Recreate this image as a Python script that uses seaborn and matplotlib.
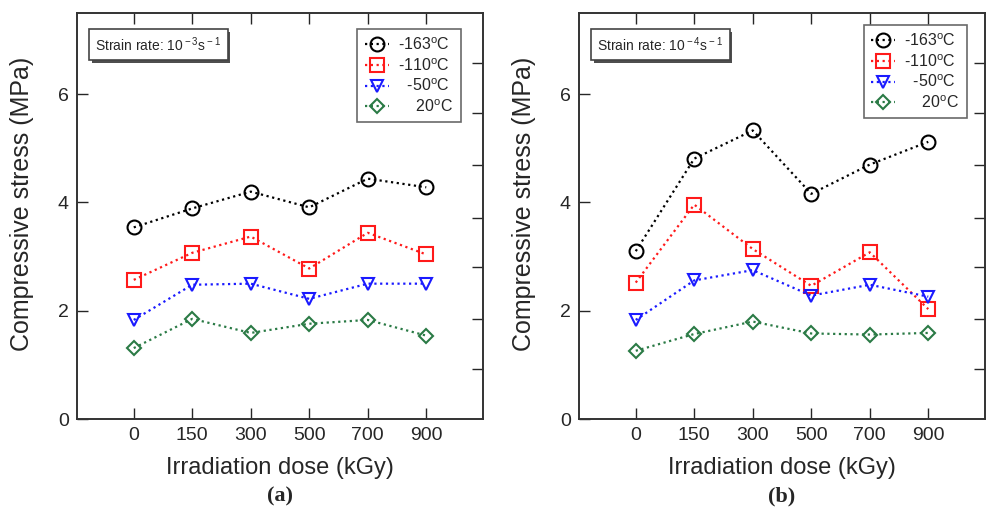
import matplotlib
matplotlib.use("Agg")
import matplotlib.pyplot as plt
import matplotlib.patheffects as pe
import seaborn as sns
import numpy as np
import pandas as pd

doses = ["0", "150", "300", "500", "700", "900"]
series_labels = ["-163", "-110", "-50", "20"]

# Panel (a): strain rate 1e-3 s^-1
a_m163 = [3.54, 3.89, 4.20, 3.91, 4.44, 4.28]
a_m110 = [2.57, 3.07, 3.37, 2.78, 3.44, 3.04]
a_m50 = [1.83, 2.48, 2.50, 2.22, 2.50, 2.50]
a_p20 = [1.31, 1.85, 1.59, 1.76, 1.83, 1.54]

# Panel (b): strain rate 1e-4 s^-1
b_m163 = [3.10, 4.81, 5.33, 4.16, 4.70, 5.12]
b_m110 = [2.52, 3.96, 3.14, 2.46, 3.08, 2.03]
b_m50 = [1.83, 2.56, 2.75, 2.28, 2.48, 2.26]
b_p20 = [1.26, 1.57, 1.80, 1.58, 1.56, 1.59]

right_ticks = [0.93, 1.85, 2.8, 3.72, 4.69, 5.65, 6.57]

colors = ["black", "#ff1a1a", "#1a1aff", "#2a7a45"]
markers = ["o", "s", "v", "D"]
msizes = [10, 10, 9, 7]
pads = ["", "", "\u2007", "\u2007\u2007"]

sns.set_style("white")
plt.rcParams["font.family"] = ["Liberation Sans", "DejaVu Sans"]
plt.rcParams["mathtext.fontset"] = "custom"
plt.rcParams["mathtext.rm"] = "Liberation Sans"

fig = plt.figure(figsize=(9.88, 5.12), dpi=100)
ax_a = fig.add_axes([77 / 988, 1 - 419 / 512, 406 / 988, 406 / 512])
ax_b = fig.add_axes([579 / 988, 1 - 419 / 512, 406 / 988, 406 / 512])


def draw(ax, data, rate_txt, letter, leg_anchor):
    pos = np.arange(len(doses))
    handles = []
    for vals, c, m, ms in zip(data, colors, markers, msizes):
        df = pd.DataFrame({"x": pos, "y": vals})
        before = len(ax.lines)
        sns.lineplot(data=df, x="x", y="y", ax=ax, color=c, linestyle=":",
                     linewidth=1.6, marker=m, markersize=ms, legend=False)
        ln = ax.lines[before]
        ln.set_markerfacecolor("none")
        ln.set_markeredgecolor(c)
        ln.set_markeredgewidth(1.5)
        ln.set_dashes((1, 1.6))
        handles.append(ln)
    ax.set_xlim(-0.97, 5.97)
    ax.set_ylim(0, 7.5)
    ax.set_xticks(pos)
    ax.set_xticklabels(doses)
    ax.set_yticks([0, 2, 4, 6])
    ax.tick_params(axis="both", direction="in", length=8, width=1, labelsize=14,
                   top=True, bottom=True, left=True, right=False, pad=6)
    tw = ax.twinx()
    tw.set_ylim(0, 7.5)
    tw.set_yticks(right_ticks)
    tw.set_yticklabels([])
    tw.tick_params(axis="y", direction="in", length=8, width=1)
    for sp in list(ax.spines.values()) + list(tw.spines.values()):
        sp.set_color("#333333")
        sp.set_linewidth(1.2)
    ax.set_xlabel("Irradiation dose (kGy)", fontsize=17, labelpad=9)
    ax.set_ylabel("Compressive stress (MPa)", fontsize=18)
    ax.yaxis.set_label_coords(-0.107, 0.53)
    labels = [p + s + r"$^{\rm o}$C" for p, s in zip(pads, series_labels)]
    leg = ax.legend(handles, labels, loc="upper right", bbox_to_anchor=leg_anchor,
                    fontsize=11.5, frameon=True, fancybox=False,
                    edgecolor="#444444", borderaxespad=0.0, handlelength=1.5,
                    handletextpad=0.6, labelspacing=0.25, borderpad=0.45)
    leg.get_frame().set_linewidth(1.2)
    t = ax.text(0.045, 0.945, "Strain rate: " + rate_txt, transform=ax.transAxes,
                ha="left", va="top", fontsize=10,
                bbox=dict(boxstyle="square,pad=0.45", facecolor="white",
                          edgecolor="#444444", linewidth=1.2))
    t.get_bbox_patch().set_path_effects(
        [pe.SimplePatchShadow(offset=(2, -2), shadow_rgbFace="#222222", alpha=0.8),
         pe.Normal()])
    ax.text(0.5, -0.19, letter, transform=ax.transAxes, ha="center",
            va="center", fontsize=16, fontweight="bold",
            family="Liberation Serif")


draw(ax_a, [a_m163, a_m110, a_m50, a_p20], r"10$^{\rm -3}$s$^{\rm -1}$", "(a)",
     (0.945, 0.96))
draw(ax_b, [b_m163, b_m110, b_m50, b_p20], r"10$^{\rm -4}$s$^{\rm -1}$", "(b)",
     (0.955, 0.97))

fig.savefig("out.png", dpi=100)
